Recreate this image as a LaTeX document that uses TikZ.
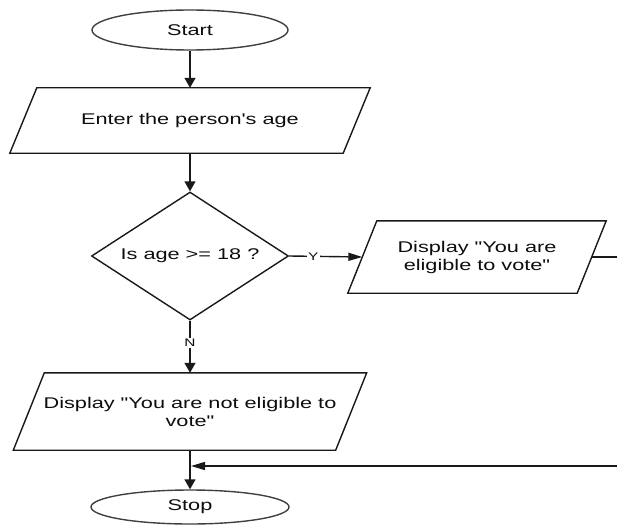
\documentclass[tikz,border=0pt]{standalone}
\usepackage{fontspec}
\usepackage{graphicx}
\setmainfont{Liberation Sans}
\usetikzlibrary{shapes.geometric,arrows.meta}
\newcommand{\sx}[1]{\scalebox{1.4}[1]{#1}}
\newcommand{\pgm}[2]{\draw[shapeline] ([xshift=#2pt]#1.north west) -- ([xshift=#2pt]#1.north east) -- ([xshift=-#2pt]#1.south east) -- ([xshift=-#2pt]#1.south west) -- cycle;}
\tikzset{
  txt/.style={font=\fontsize{15.5}{18}\selectfont, text=black!95, align=center},
  shapeline/.style={draw=black!90, line width=1.4pt},
  term/.style={txt, ellipse, draw=black!75, line width=1.4pt, inner sep=0pt},
  pg/.style={txt, rectangle, draw=none, inner sep=0pt},
  dec/.style={txt, diamond, shapeline, inner sep=0pt, aspect=1.54},
  vline/.style={draw=black!90, line width=1.4pt, -{Triangle[length=10pt,width=11pt]}},
  hline/.style={draw=black!90, line width=1.4pt, -{Triangle[length=14pt,width=8pt]}},
  lbl/.style={fill=white, inner sep=1.5pt, text=black!95, font=\fontsize{11}{13}\selectfont}
}
\begin{document}
\begin{tikzpicture}[x=1pt, y=-1pt]
\useasboundingbox (0,0) rectangle (617,524);
\node[term, minimum width=196pt, minimum height=40pt] (start) at (190,30) {\sx{Start}};
\node[pg, minimum width=333pt, minimum height=65pt] (enter) at (190,120.5) {\sx{Enter the person\textquotesingle s age}};
\pgm{enter}{13.5}
\node[dec, minimum width=197pt, minimum height=128pt] (dec) at (190,256) {\sx{Is age >= 18 ?}};
\node[pg, minimum width=229pt, minimum height=72pt] (yes) at (477,257) {\sx{Display \textquotedbl You are}\\\sx{eligible to vote\textquotedbl}};
\pgm{yes}{14.5}
\node[pg, minimum width=322pt, minimum height=77pt] (no) at (190,411.5) {\sx{Display \textquotedbl You are not eligible to}\\\sx{vote\textquotedbl}};
\pgm{no}{15.5}
\node[term, minimum width=198pt, minimum height=34pt] (stop) at (190,507) {\sx{Stop}};
\coordinate (r1) at (625,257);
\coordinate (r2) at (625,466);
\coordinate (j) at (191,466);
\draw[vline] (start.south) -- (enter.north);
\draw[vline] (enter.south) -- (dec.north);
\draw[hline] (dec.east) -- node[lbl, pos=0.33] {\sx{Y}} (yes.west);
\draw[vline] (dec.south) -- node[lbl, pos=0.43] {\sx{N}} (no.north);
\draw[vline] (no.south) -- (stop.north);
\draw[hline] (yes.east) -- (r1) -- (r2) -- (j);
\end{tikzpicture}
\end{document}
